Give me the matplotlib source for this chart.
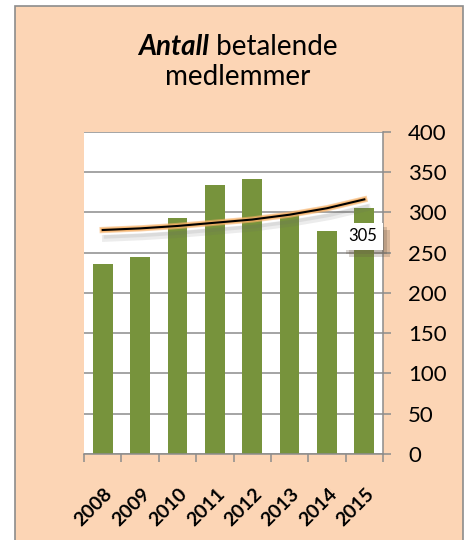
import matplotlib
matplotlib.use('Agg')
import matplotlib.pyplot as plt
import matplotlib.patheffects as pe
from matplotlib.patches import Rectangle
from matplotlib.transforms import ScaledTranslation
import numpy as np

plt.rcParams['font.family'] = ['Lato', 'DejaVu Sans']

# data
years = ['2008', '2009', '2010', '2011', '2012', '2013', '2014', '2015']
members = [236, 244, 293, 334, 341, 297, 277, 305]
trend = [278, 280, 283, 287, 291, 297, 305, 316]
y_ticks = [0, 50, 100, 150, 200, 250, 300, 350, 400]
label_value = members[-1]

W, H = 465, 540
grey = '#8c8c8c'

fig = plt.figure(figsize=(W / 100, H / 100), dpi=100, facecolor='white')

# peach chart area with grey frame
frame = Rectangle((15 / W, -0.02), (463 - 15) / W, (H - 6) / H + 0.02,
                  transform=fig.transFigure, facecolor='#FCD5B5',
                  edgecolor=grey, lw=1.2, zorder=-1)
fig.add_artist(frame)

ax = fig.add_axes([84 / W, 1 - 454 / H, 299 / W, (454 - 131.7) / H])
ax.set_facecolor('white')

x = np.arange(len(years))
ax.bar(x, members, width=0.53, color='#77933C', zorder=2)

# trend line: black with orange glow and soft shadow
ax.plot(x, trend, color='black', lw=1.5, zorder=4,
        path_effects=[pe.SimpleLineShadow(offset=(2, -6), shadow_color='#666666',
                                          alpha=0.12, linewidth=5),
                      pe.SimpleLineShadow(offset=(2, -5), shadow_color='#666666',
                                          alpha=0.12, linewidth=2.5),
                      pe.Stroke(linewidth=4.5, foreground='#F6B066', alpha=0.6),
                      pe.Stroke(linewidth=3, foreground='#F6B066', alpha=0.8),
                      pe.Normal()])

ax.set_xlim(-0.5, len(years) - 0.5)
ax.set_ylim(0, 400)

# y axis on the right
ax.yaxis.tick_right()
ax.set_yticks(y_ticks)
ax.grid(axis='y', color=grey, lw=1.1)
ax.set_axisbelow(True)
ax.tick_params(axis='y', direction='out', length=6, width=1.1, color=grey,
               labelsize=16, pad=12)

for s in ['left', 'top']:
    ax.spines[s].set_visible(False)
for s in ['right', 'bottom']:
    ax.spines[s].set_color(grey)
    ax.spines[s].set_linewidth(1.1)

# x axis: labels at centres, tick marks between categories
ax.set_xticks(x)
ax.set_xticklabels(years, rotation=45, ha='right', va='center',
                   rotation_mode='anchor', fontweight='bold', fontsize=14)
ax.tick_params(axis='x', which='major', length=0, pad=27)
ax.set_xticks(np.arange(-0.5, len(years), 1), minor=True)
ax.tick_params(axis='x', which='minor', direction='out', length=6, width=1.1, color=grey)
for lab in ax.get_xticklabels():
    lab.set_transform(lab.get_transform() + ScaledTranslation(7 / 100, 0, fig.dpi_scale_trans))

# data label with shadow
t = ax.text(x[-1] - 0.05, 270, str(label_value), ha='center', va='center', fontsize=12, zorder=5,
            bbox=dict(boxstyle='square,pad=0.35', facecolor='white', edgecolor='none'))
t.get_bbox_patch().set_path_effects([
    pe.withSimplePatchShadow(offset=(5, -5), shadow_rgbFace='#6a5a4a', alpha=0.25),
    pe.withSimplePatchShadow(offset=(3, -3), shadow_rgbFace='#6a5a4a', alpha=0.25)])

# title: "Antall" bold italic + normal rest
t1 = fig.text(0, 1 - 55 / H, 'Antall', fontweight='bold', fontstyle='italic',
              fontsize=20, va='baseline')
t2 = fig.text(0, 1 - 55 / H, ' betalende', fontsize=20, va='baseline')
r = fig.canvas.get_renderer()
w1 = t1.get_window_extent(r).width
w2 = t2.get_window_extent(r).width
start = 238 - (w1 + w2) / 2
t1.set_x(start / W)
t2.set_x((start + w1) / W)
fig.text(238 / W, 1 - 85 / H, 'medlemmer', ha='center', va='baseline', fontsize=20)

fig.savefig('out.png', dpi=100)
